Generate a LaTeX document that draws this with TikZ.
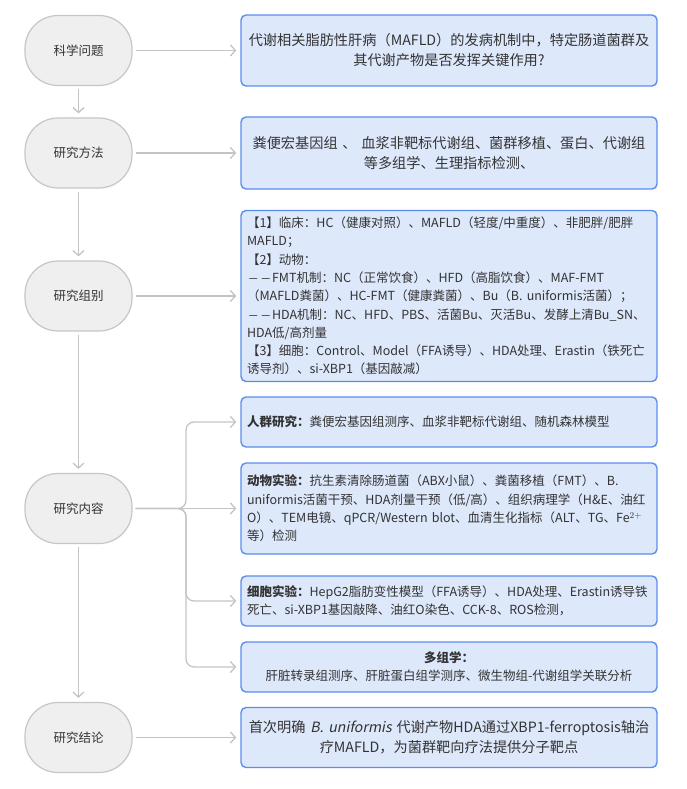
\documentclass[tikz,border=0pt]{standalone}
\usepackage{fontspec}
\setmainfont{Noto Sans CJK SC}[AutoFakeSlant=0.2]
\usetikzlibrary{arrows.meta}
\definecolor{stagefill}{HTML}{EFEFEF}
\definecolor{stageline}{HTML}{C6C6C6}
\definecolor{infofill}{HTML}{DDE8FB}
\definecolor{infoline}{HTML}{5B8DEE}
\definecolor{linkgray}{HTML}{C4C4C4}
\definecolor{txt}{HTML}{333333}
\newcommand{\gapdash}{\makebox[12.5pt]{\scalebox{0.8}[1]{—}}}
\begin{document}
\begin{tikzpicture}[x=1pt,y=-1pt,
  stage/.style={draw=stageline,fill=stagefill,line width=1.2pt,rounded corners=33pt,
    minimum width=107pt,minimum height=70pt,text=txt,font=\fontsize{12.5}{15}\selectfont},
  info/.style={draw=infoline,fill=infofill,line width=1.4pt,rounded corners=5pt,
    text width=404pt,inner xsep=6pt,inner ysep=4pt,text=txt,font=\fontsize{12.5}{18.3}\selectfont},
  link/.style={draw=linkgray,line width=1.3pt,-{Straight Barb[length=5pt,width=11pt]},
    shorten <=3pt,shorten >=4pt}]
\useasboundingbox (0,0) rectangle (687,789);

% left column
\node[stage] (q) at (78.5,50.5) {科学问题};
\node[stage] (m) at (78.5,153) {研究方法};
\node[stage] (g) at (78.5,296) {研究组别};
\node[stage] (c) at (78.5,508.5) {研究内容};
\node[stage] (r) at (78.5,737.5) {研究结论};

% right column
\node[info,align=center,minimum height=71pt,font=\fontsize{14.2}{20}\selectfont] (qb) at (449,50.5)
  {代谢相关脂肪性肝病（MAFLD）的发病机制中，特定肠道菌群及\\其代谢产物是否发挥关键作用?};
\node[info,align=center,minimum height=72pt,font=\fontsize{14.2}{20}\selectfont] (mb) at (449,153)
  {粪便宏基因组 、 血浆非靶标代谢组、菌群移植、蛋白、代谢组\\等多组学、生理指标检测、};
\node[info,align=left,minimum height=171pt] (gb) at (449,296)
  {【1】临床：HC（健康对照）、MAFLD（轻度/中重度）、非肥胖/肥胖\\
   MAFLD；\\
   【2】动物：\\
   \gapdash\gapdash FMT机制：NC（正常饮食）、HFD（高脂饮食）、MAF-FMT\\
   （MAFLD粪菌）、HC-FMT（健康粪菌）、Bu（B. uniformis活菌）；\\
   \gapdash\gapdash HDA机制：NC、HFD、PBS、活菌Bu、灭活Bu、发酵上清Bu\_SN、\\
   HDA低/高剂量\\
   【3】细胞：Control、Model（FFA诱导）、HDA处理、Erastin（铁死亡\\
   诱导剂）、si-XBP1（基因敲减）};
\node[info,align=left,minimum height=50pt] (ca) at (449,422)
  {\textbf{人群研究：}粪便宏基因组测序、血浆非靶标代谢组、随机森林模型};
\node[info,align=left,minimum height=91pt] (cb) at (449,508.5)
  {\textbf{动物实验：}抗生素清除肠道菌（ABX小鼠）、粪菌移植（FMT）、B.\\
   uniformis活菌干预、HDA剂量干预（低/高）、组织病理学（H\&E、油红\\
   O）、TEM电镜、qPCR/Western blot、血清生化指标（ALT、TG、Fe$^{2+}$\\
   等）检测};
\node[info,align=left,minimum height=50pt] (cc) at (449,601)
  {\textbf{细胞实验：}HepG2脂肪变性模型（FFA诱导）、HDA处理、Erastin诱导铁\\
   死亡、si-XBP1基因敲降、油红O染色、CCK-8、ROS检测，};
\node[info,align=center,minimum height=50pt] (cd) at (449,667)
  {\textbf{多组学：}\\肝脏转录组测序、肝脏蛋白组学测序、微生物组-代谢组学关联分析};
\node[info,align=center,minimum height=60pt,font=\fontsize{14.2}{20}\selectfont] (rb) at (449,737.5)
  {首次明确 \textit{B. uniformis} 代谢产物HDA通过XBP1-ferroptosis轴治\\疗MAFLD，为菌群靶向疗法提供分子靶点};

% connectors
\draw[link] (q) -- (m);
\draw[link] (m) -- (g);
\draw[link] (g) -- (c);
\draw[link] (c) -- (r);
\draw[link] (q.east) -- (q.east -| qb.west);
\draw[link] (m.east) -- (m.east -| mb.west);
\draw[link] (g.east) -- (g.east -| gb.west);
\draw[link] (r.east) -- (r.east -| rb.west);

\coordinate (fork) at (186,508.5);
\draw[link] (c.east) -- (c.east -| cb.west);
\draw[link,rounded corners=8pt] (c.east) -- (fork) |- (ca.west);
\draw[link,rounded corners=8pt] (c.east) -- (fork) |- (cc.west);
\draw[link,rounded corners=8pt] (c.east) -- (fork) |- (cd.west);
\end{tikzpicture}
\end{document}
